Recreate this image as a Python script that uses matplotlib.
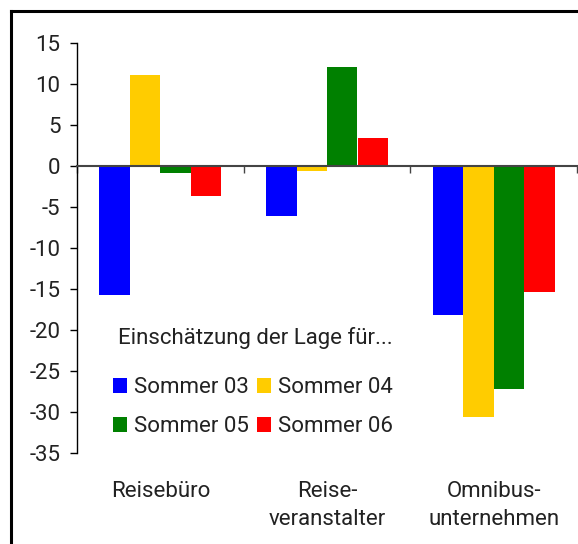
import matplotlib
matplotlib.use("Agg")
import matplotlib.pyplot as plt
import numpy as np
from matplotlib.lines import Line2D
from matplotlib.patches import Patch

plt.rcParams["font.family"] = ["Roboto", "DejaVu Sans"]
plt.rcParams["axes.unicode_minus"] = False

categories = ["Reisebüro", "Reise-\nveranstalter", "Omnibus-\nunternehmen"]
series = ["Sommer 03", "Sommer 04", "Sommer 05", "Sommer 06"]
sommer_03 = [-15.7, -6.1, -18.2]
sommer_04 = [11.1, -0.6, -30.6]
sommer_05 = [-0.8, 12.1, -27.2]
sommer_06 = [-3.7, 3.4, -15.4]
colors = ["#0000ff", "#ffcc00", "#008000", "#ff0000"]
yticks = [15, 10, 5, 0, -5, -10, -15, -20, -25, -30, -35]
legend_title = "Einschätzung der Lage für..."

FS = 16
W, H = 578, 544
fig = plt.figure(figsize=(W / 100, H / 100), dpi=100)
ax = fig.add_axes([77 / W, 1 - 453 / H, 500 / W, 410 / H])

x = np.arange(len(categories))
width = 0.183
for i, (vals, c) in enumerate(zip([sommer_03, sommer_04, sommer_05, sommer_06], colors)):
    ax.bar(x + (i - 1.5) * width, vals, width, color=c, linewidth=0, zorder=2)

ax.set_xlim(-0.5, 2.5)
ax.set_ylim(-35, 15)
ax.set_yticks(yticks)
ax.tick_params(axis="y", length=5, width=1, pad=7, labelsize=FS, colors="#222222")
ax.tick_params(axis="y", color="black")

# Nulllinie mit Kategorie-Trennstrichen
ax.spines["bottom"].set_position(("data", 0))
ax.spines["bottom"].set_color("#444444")
ax.spines["bottom"].set_linewidth(1.5)
ax.spines["bottom"].set_zorder(3)
ax.set_xticks(np.arange(-0.5, 3.0, 1.0))
ax.tick_params(axis="x", length=5, width=1, color="#444444", labelbottom=False)
for s in ["top", "right"]:
    ax.spines[s].set_visible(False)
ax.spines["left"].set_linewidth(1)

trans = ax.get_xaxis_transform()
for xi, lab in zip(x, categories):
    ax.text(xi, -0.068, lab, transform=trans, ha="center", va="top",
            fontsize=FS, color="#222222", linespacing=1.45)

# Legende
ax.text(118 / W, 1 - 338 / H, legend_title, transform=fig.transFigure,
        ha="left", va="center", fontsize=FS, color="#222222")
handles = [Patch(facecolor=c, edgecolor="none") for c in colors]
order = [0, 2, 1, 3]
leg = ax.legend([handles[i] for i in order], [series[i] for i in order], ncol=2,
                frameon=False, loc="center left",
                bbox_to_anchor=(113 / W, 1 - 407 / H), bbox_transform=fig.transFigure,
                fontsize=FS, handlelength=0.65, handleheight=0.65, handletextpad=0.3,
                columnspacing=0.35, labelspacing=0.8, borderpad=0, borderaxespad=0)
for t in leg.get_texts():
    t.set_color("#222222")

# Rahmen um die Grafik (rechts/unten abgeschnitten)
fig.add_artist(Line2D([11 / W, 1.0], [1 - 11 / H, 1 - 11 / H], color="black", lw=2.2,
                      transform=fig.transFigure))
fig.add_artist(Line2D([11 / W, 11 / W], [0.0, 1 - 11 / H], color="black", lw=2.2,
                      transform=fig.transFigure))

fig.savefig("out.png", dpi=100)
